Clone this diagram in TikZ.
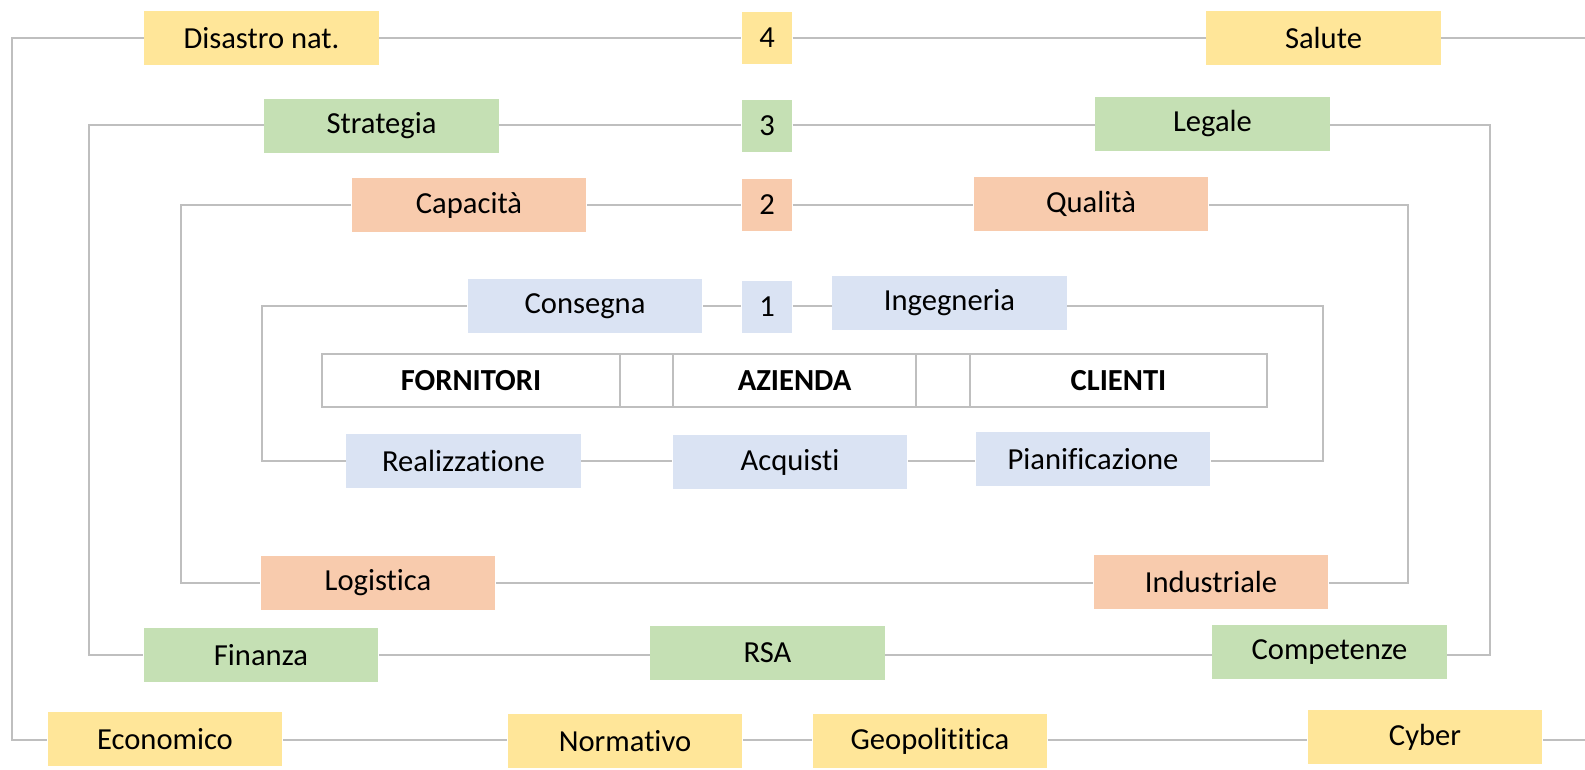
\documentclass[tikz,border=0pt]{standalone}
\usepackage{fontspec}
\setmainfont{Carlito}[Ligatures=NoCommon]
\definecolor{giallo}{HTML}{FFE699}
\definecolor{verde}{HTML}{C5E0B4}
\definecolor{arancio}{HTML}{F8CBAD}
\definecolor{blu}{HTML}{DAE3F3}
\definecolor{grigio}{HTML}{BFBFBF}
\begin{document}
\begin{tikzpicture}[x=0.01cm,y=-0.01cm,
    every node/.style={font=\fontsize{8.7}{10}\selectfont,inner sep=0pt},
    box/.style={minimum width=2.34cm,minimum height=0.53cm},
    num/.style={minimum width=0.5cm,minimum height=0.52cm},
    cella/.style={draw=grigio,line width=0.6pt,minimum height=0.53cm,font=\fontsize{8.7}{10}\selectfont\bfseries},
    linea/.style={draw=grigio,line width=0.65pt}]
    \useasboundingbox (0,0) rectangle (1585,770);
            \node[box,fill=giallo] (dis) at (261.5,38) {Disastro nat.};
            \node[num,fill=giallo] (n4) at (767,38) {4};
            \node[box,fill=giallo] (sal) at (1323.5,38) {Salute};
            \node[box,fill=verde] (str) at (381.5,126) {Strategia};
            \node[num,fill=verde] (n3) at (767,126) {3};
            \node[box,fill=verde] (leg) at (1212.5,124) {Legale};
            \node[box,fill=arancio] (cap) at (469,205) {Capacità};
            \node[num,fill=arancio] (n2) at (767,205) {2};
            \node[box,fill=arancio] (qua) at (1091,204) {Qualità};
            \node[box,fill=blu] (con) at (585,306) {Consegna};
            \node[num,fill=blu] (n1) at (767,307) {1};
            \node[box,fill=blu] (ing) at (949.5,303) {Ingegneria};
            \node[cella,minimum width=2.98cm] (forn) at (471,380.5) {FORNITORI};
            \node[cella,minimum width=0.53cm] (vuo1) at (646.5,380.5) {};
            \node[cella,minimum width=2.43cm] (azi) at (794.5,380.5) {AZIENDA};
            \node[cella,minimum width=0.54cm] (vuo2) at (943,380.5) {};
            \node[cella,minimum width=2.97cm] (cli) at (1118.5,380.5) {CLIENTI};
            \node[box,fill=blu] (rea) at (463.5,461) {Realizzatione};
            \node[box,fill=blu] (acq) at (790,462) {Acquisti};
            \node[box,fill=blu] (pia) at (1093,459) {Pianificazione};
            \node[box,fill=arancio] (log) at (378,583) {Logistica};
            \node[box,fill=arancio] (ind) at (1211,582) {Industriale};
            \node[box,fill=verde] (fin) at (261,655) {Finanza};
            \node[box,fill=verde] (rsa) at (767.5,653) {RSA};
            \node[box,fill=verde] (com) at (1329.5,652) {Competenze};
            \node[box,fill=giallo] (eco) at (165,739) {Economico};
            \node[box,fill=giallo] (nor) at (625,741) {Normativo};
            \node[box,fill=giallo] (geo) at (930,741) {Geopolititica};
            \node[box,fill=giallo] (cyb) at (1425,737) {Cyber};
            \coordinate (s4) at (12,400);
            \coordinate (s3) at (89,400);
            \coordinate (s2) at (181,400);
            \coordinate (s1) at (262,380);
            \coordinate (d1) at (1323,380);
            \coordinate (d2) at (1408,400);
            \coordinate (d3) at (1490,400);
            \coordinate (fine4a) at (1585,38);
            \coordinate (fine4b) at (1585,740);
            \draw[linea] (dis.west) -| (s4) |- (eco.west |- 0,740);
            \draw[linea] (dis) -- (n4) -- (sal) -- (fine4a);
            \draw[linea] (eco.east |- 0,740) -- (nor.west |- 0,740) (nor.east |- 0,740) -- (geo.west |- 0,740) (geo.east |- 0,740) -- (cyb.west |- 0,740) (cyb.east |- 0,740) -- (fine4b);
            \draw[linea] (str.west |- 0,125) -| (s3) |- (fin.west |- 0,655);
            \draw[linea] (leg.east |- 0,125) -| (d3) |- (com.east |- 0,655);
            \draw[linea] (str.east |- 0,125) -- (n3.west |- 0,125) (n3.east |- 0,125) -- (leg.west |- 0,125);
            \draw[linea] (fin.east |- 0,655) -- (rsa.west |- 0,655) (rsa.east |- 0,655) -- (com.west |- 0,655);
            \draw[linea] (cap.west |- 0,205) -| (s2) |- (log.west |- 0,583);
            \draw[linea] (qua.east |- 0,205) -| (d2) |- (ind.east |- 0,583);
            \draw[linea] (cap) -- (n2) (n2.east |- 0,205) -- (qua.west |- 0,205);
            \draw[linea] (log.east |- 0,583) -- (ind.west |- 0,583);
            \draw[linea] (con.west |- 0,306) -| (s1) |- (rea.west |- 0,461);
            \draw[linea] (ing.east |- 0,306) -| (d1) |- (pia.east |- 0,461);
            \draw[linea] (con.east |- 0,306) -- (n1.west |- 0,306) (n1.east |- 0,306) -- (ing.west |- 0,306);
            \draw[linea] (rea.east |- 0,461) -- (acq.west |- 0,461) (acq.east |- 0,461) -- (pia.west |- 0,461);
\end{tikzpicture}
\end{document}
